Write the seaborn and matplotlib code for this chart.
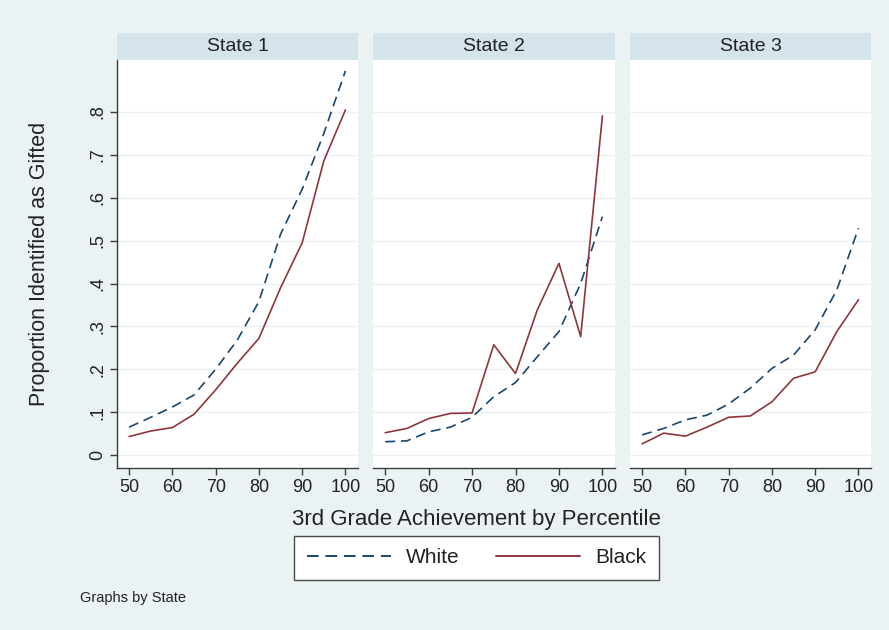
import matplotlib
matplotlib.use("Agg")
import matplotlib.pyplot as plt
import pandas as pd
import seaborn as sns
from matplotlib.patches import Rectangle

# values
percentile = [50, 55, 60, 65, 70, 75, 80, 85, 90, 95, 100]
states = ["State 1", "State 2", "State 3"]
groups = ["White", "Black"]

white_s1 = [0.065, 0.088, 0.112, 0.140, 0.200, 0.268, 0.358, 0.515, 0.620, 0.750, 0.896]
black_s1 = [0.043, 0.056, 0.064, 0.095, 0.152, 0.214, 0.272, 0.390, 0.495, 0.686, 0.805]
white_s2 = [0.031, 0.033, 0.054, 0.065, 0.088, 0.136, 0.169, 0.229, 0.288, 0.400, 0.556]
black_s2 = [0.052, 0.062, 0.085, 0.097, 0.098, 0.257, 0.190, 0.338, 0.447, 0.276, 0.791]
white_s3 = [0.047, 0.062, 0.082, 0.093, 0.119, 0.156, 0.202, 0.233, 0.292, 0.385, 0.529]
black_s3 = [0.026, 0.051, 0.044, 0.065, 0.088, 0.091, 0.124, 0.179, 0.194, 0.288, 0.362]

y_ticks = [0, 0.1, 0.2, 0.3, 0.4, 0.5, 0.6, 0.7, 0.8]
y_labels = ["0", ".1", ".2", ".3", ".4", ".5", ".6", ".7", ".8"]
x_ticks = [50, 60, 70, 80, 90, 100]

series = {
    ("State 1", "White"): white_s1, ("State 1", "Black"): black_s1,
    ("State 2", "White"): white_s2, ("State 2", "Black"): black_s2,
    ("State 3", "White"): white_s3, ("State 3", "Black"): black_s3,
}
rows = []
for (st, grp), vals in series.items():
    for p, v in zip(percentile, vals):
        rows.append({"State": st, "Group": grp, "Percentile": p, "Proportion": v})
df = pd.DataFrame(rows)

BG = "#eaf2f3"
STRIP = "#d5e3eb"
AXC = "#3a3a3a"
palette = {"White": "#1a476f", "Black": "#90353b"}
dashes = {"White": (6, 3.5), "Black": ""}

sns.set_theme(style="white")
plt.rcParams["font.family"] = ["Liberation Sans", "DejaVu Sans"]

W, H = 889, 630
fig = plt.figure(figsize=(W / 100, H / 100), dpi=100, facecolor=BG)

# panel placement in pixels
lefts = [117, 373, 630]
rights = [358, 615, 871]
top, bottom = 60, 468
strip_h = 27

handles = labels = None
for i, st in enumerate(states):
    ax = fig.add_axes([lefts[i] / W, 1 - bottom / H, (rights[i] - lefts[i]) / W, (bottom - top) / H])
    ax.set_facecolor("white")
    sub = df[df["State"] == st]
    sns.lineplot(data=sub, x="Percentile", y="Proportion", hue="Group", style="Group",
                 hue_order=groups, style_order=groups, palette=palette, dashes=dashes,
                 linewidth=1.2, ax=ax, legend=(i == 0))
    if i == 0:
        handles, labels = ax.get_legend_handles_labels()
        ax.get_legend().remove()

    ax.set_xlim(47.2, 102.9)
    ax.set_ylim(-0.0303, 0.9213)
    ax.set_yticks(y_ticks)
    ax.grid(axis="y", color=BG, linewidth=1.0)
    ax.set_axisbelow(True)
    ax.set_xticks(x_ticks)
    ax.set_xlabel("")
    ax.set_ylabel("")
    ax.tick_params(axis="x", direction="out", length=5, width=1, color=AXC,
                   labelsize=13, labelcolor="#222222", pad=3, bottom=True)
    for s in ["top", "right"]:
        ax.spines[s].set_visible(False)
    ax.spines["bottom"].set_color(AXC)
    ax.spines["bottom"].set_linewidth(1.0)
    if i == 0:
        ax.set_yticklabels(y_labels)
        ax.tick_params(axis="y", direction="out", length=5, width=1, color=AXC,
                       labelsize=13, labelcolor="#222222", pad=3, left=True)
        for lab in ax.get_yticklabels():
            lab.set_rotation(90)
            lab.set_va("center")
        ax.spines["left"].set_color(AXC)
        ax.spines["left"].set_linewidth(1.0)
    else:
        ax.tick_params(axis="y", left=False, labelleft=False)
        ax.spines["left"].set_visible(False)

    rect = Rectangle((0, 1), 1, strip_h / (bottom - top), transform=ax.transAxes,
                     facecolor=STRIP, edgecolor="none", clip_on=False)
    ax.add_patch(rect)
    ax.text(0.5, 1 + strip_h / 2 / (bottom - top), st, transform=ax.transAxes,
            ha="center", va="center", fontsize=14, color="#222222")

fig.text(476 / W, 1 - 519 / H, "3rd Grade Achievement by Percentile",
         ha="center", va="center", fontsize=16, color="#222222")
fig.text(40 / W, 1 - 264 / H, "Proportion Identified as Gifted",
         ha="center", va="center", rotation=90, fontsize=15.5, color="#222222")

leg = fig.legend(handles, labels, loc="center", bbox_to_anchor=(476.5 / W, 1 - 557.5 / H),
                 ncol=2, frameon=True, fancybox=False, edgecolor="#4a4a4a",
                 facecolor="white", framealpha=1, handlelength=4.05,
                 handletextpad=0.72, columnspacing=1.75, borderpad=0.6, fontsize=15)
leg.get_frame().set_linewidth(1.0)
for t in leg.get_texts():
    t.set_color("#222222")
for ln in leg.get_lines():
    ln.set_linewidth(1.4)

fig.text(80 / W, 1 - 598 / H, "Graphs by State", ha="left", va="center",
         fontsize=10.5, color="#222222")

fig.savefig("out.png", dpi=100, facecolor=BG)
